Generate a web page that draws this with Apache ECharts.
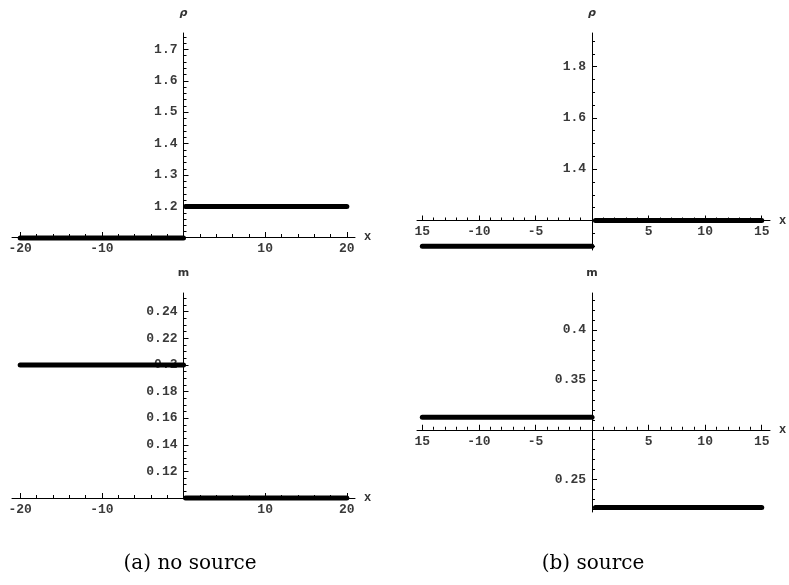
<!DOCTYPE html>
<html><head><meta charset="utf-8">
<script src="https://cdn.jsdelivr.net/npm/echarts@6/dist/echarts.min.js"></script>
<style>html,body{margin:0;padding:0;background:#fff}#c{width:789px;height:585px}</style>
</head><body><div id="c"></div>
<script>
// ---- Data: panel (a) no source ----
const aRhoLeftX  = [-20, 0];    const aRhoLeftY  = [1.1, 1.1];
const aRhoRightX = [0.25, 20];  const aRhoRightY = [1.2, 1.2];
const aMLeftX    = [-20, 0];    const aMLeftY    = [0.2, 0.2];
const aMRightX   = [0.25, 20];  const aMRightY   = [0.1, 0.1];
// ---- Data: panel (b) source ----
const bRhoLeftX  = [-15, 0];    const bRhoLeftY  = [1.1, 1.1];
const bRhoRightX = [0.3, 15];   const bRhoRightY = [1.2, 1.2];
const bMLeftX    = [-15, 0];    const bMLeftY    = [0.3125, 0.3125];
const bMRightX   = [0.3, 15];   const bMRightY   = [0.222, 0.222];

// ---- Tick labels ----
const aXLabelVals  = [-20, -10, 10, 20];
const aXLabelTexts = ['-20', '-10', '10', '20'];
const bXLabelVals  = [-15, -10, -5, 5, 10, 15];
const bXLabelTexts = ['15', '-10', '-5', '5', '10', '15'];
const aRhoYLabels = [1.2, 1.3, 1.4, 1.5, 1.6, 1.7];
const aMYLabels   = [0.12, 0.14, 0.16, 0.18, 0.2, 0.22, 0.24];
const bRhoYLabels = [1.4, 1.6, 1.8];
const bMYLabels   = [0.25, 0.35, 0.4];

function steps(a, b, s) { const out = []; const n = Math.round((b - a) / s); for (let i = 0; i <= n; i++) out.push(+(a + i * s).toFixed(6)); return out; }
function trim(v) { return String(parseFloat(v.toFixed(4))); }

const panels = [
  { grid: {left: 12, top: 33, width: 343, height: 204}, xMin: -21, xMax: 21, yMin: 1.103, yMax: 1.752, cross: 1.103,
    yName: 'ρ', xTicks: steps(-20, 20, 2), xLabelVals: aXLabelVals, xLabelTexts: aXLabelTexts,
    yTicks: steps(1.12, 1.74, 0.02), yLabels: aRhoYLabels,
    lines: [[aRhoLeftX, aRhoLeftY], [aRhoRightX, aRhoRightY]] },
  { grid: {left: 417, top: 33, width: 353, height: 217}, xMin: -15.47, xMax: 15.73, yMin: 1.085, yMax: 1.931, cross: 1.2,
    yName: 'ρ', xTicks: steps(-15, 15, 1), xLabelVals: bXLabelVals, xLabelTexts: bXLabelTexts,
    yTicks: steps(1.1, 1.9, 0.05), yLabels: bRhoYLabels,
    lines: [[bRhoLeftX, bRhoLeftY], [bRhoRightX, bRhoRightY]] },
  { grid: {left: 12, top: 293, width: 343, height: 205}, xMin: -21, xMax: 21, yMin: 0.1, yMax: 0.254, cross: 0.1,
    yName: 'm', xTicks: steps(-20, 20, 2), xLabelVals: aXLabelVals, xLabelTexts: aXLabelTexts,
    yTicks: steps(0.105, 0.25, 0.005), yLabels: aMYLabels,
    lines: [[aMLeftX, aMLeftY], [aMRightX, aMRightY]] },
  { grid: {left: 417, top: 293, width: 353, height: 219}, xMin: -15.47, xMax: 15.73, yMin: 0.2176, yMax: 0.437, cross: 0.3,
    yName: 'm', xTicks: steps(-15, 15, 1), xLabelVals: bXLabelVals, xLabelTexts: bXLabelTexts,
    yTicks: steps(0.22, 0.43, 0.01), yLabels: bMYLabels,
    lines: [[bMLeftX, bMLeftY], [bMRightX, bMRightY]] }
];

const labelFont = {fontFamily: 'Liberation Mono', fontSize: 13, fontWeight: 'bold', color: '#3a3a3a'};
const grids = [], xAxes = [], yAxes = [], series = [];
panels.forEach((p, i) => {
  const g = p.grid;
  // place the axes where they cross (x = 0 and y = cross), via axis offsets
  const yAxisOffset = -((0 - p.xMin) / (p.xMax - p.xMin)) * g.width;
  const xAxisOffset = -((p.cross - p.yMin) / (p.yMax - p.yMin)) * g.height;
  grids.push(Object.assign({outerBoundsMode: 'none', containLabel: false}, g));
  const xi = xAxes.length, yi = yAxes.length;
  xAxes.push({
    type: 'value', gridIndex: i, min: p.xMin, max: p.xMax, position: 'bottom', offset: xAxisOffset,
    axisLine: {show: true, onZero: false, lineStyle: {color: '#000', width: 1}},
    axisTick: {show: true, inside: true, length: 3, customValues: p.xTicks, lineStyle: {color: '#000'}},
    axisLabel: Object.assign({show: true, margin: 5, customValues: p.xLabelVals,
      formatter: v => { const k = p.xLabelVals.findIndex(t => Math.abs(t - v) < 1e-6); return k >= 0 ? p.xLabelTexts[k] : ''; }}, labelFont),
    splitLine: {show: false},
    name: 'x', nameLocation: 'end', nameGap: 9,
    nameTextStyle: {fontFamily: 'Liberation Mono', fontSize: 12, fontWeight: 'bold', color: '#333'}
  });
  // major (longer) x ticks
  xAxes.push({
    type: 'value', gridIndex: i, min: p.xMin, max: p.xMax, position: 'bottom', offset: xAxisOffset,
    axisLine: {show: false, onZero: false},
    axisTick: {show: true, inside: true, length: 5, customValues: p.xLabelVals, lineStyle: {color: '#000'}},
    axisLabel: {show: false}, splitLine: {show: false}
  });
  yAxes.push({
    type: 'value', gridIndex: i, min: p.yMin, max: p.yMax, position: 'left', offset: yAxisOffset,
    axisLine: {show: true, onZero: false, lineStyle: {color: '#000', width: 1}},
    axisTick: {show: true, inside: true, length: 3, customValues: p.yTicks, lineStyle: {color: '#000'}},
    axisLabel: Object.assign({show: true, margin: 6, customValues: p.yLabels,
      formatter: v => trim(v)}, labelFont),
    splitLine: {show: false},
    name: p.yName, nameLocation: 'end', nameGap: 14,
    nameTextStyle: {fontFamily: 'DejaVu Sans', fontSize: 11, fontStyle: p.yName === 'ρ' ? 'italic' : 'normal', fontWeight: 'bold', color: '#333'}
  });
  // major (longer) y ticks
  yAxes.push({
    type: 'value', gridIndex: i, min: p.yMin, max: p.yMax, position: 'left', offset: yAxisOffset,
    axisLine: {show: false, onZero: false},
    axisTick: {show: true, inside: true, length: 5, customValues: p.yLabels, lineStyle: {color: '#000'}},
    axisLabel: {show: false}, splitLine: {show: false}
  });
  p.lines.forEach(([xs, ys]) => {
    series.push({
      type: 'line', xAxisIndex: xi, yAxisIndex: yi, data: xs.map((x, k) => [x, ys[k]]),
      showSymbol: false, symbol: 'none', clip: false, silent: true, z: 5,
      lineStyle: {color: '#000', width: 5, cap: 'round'}
    });
  });
});

const chart = echarts.init(document.getElementById('c'), null, {renderer: 'canvas'});
chart.setOption({
  animation: false,
  backgroundColor: '#fff',
  grid: grids, xAxis: xAxes, yAxis: yAxes, series: series,
  graphic: [
    {type: 'text', x: 190, y: 564, style: {text: '(a) no source', font: '20px "DejaVu Serif"', fill: '#000', textAlign: 'center', textVerticalAlign: 'middle'}},
    {type: 'text', x: 593, y: 564, style: {text: '(b) source', font: '20px "DejaVu Serif"', fill: '#000', textAlign: 'center', textVerticalAlign: 'middle'}}
  ]
});
</script></body></html>
